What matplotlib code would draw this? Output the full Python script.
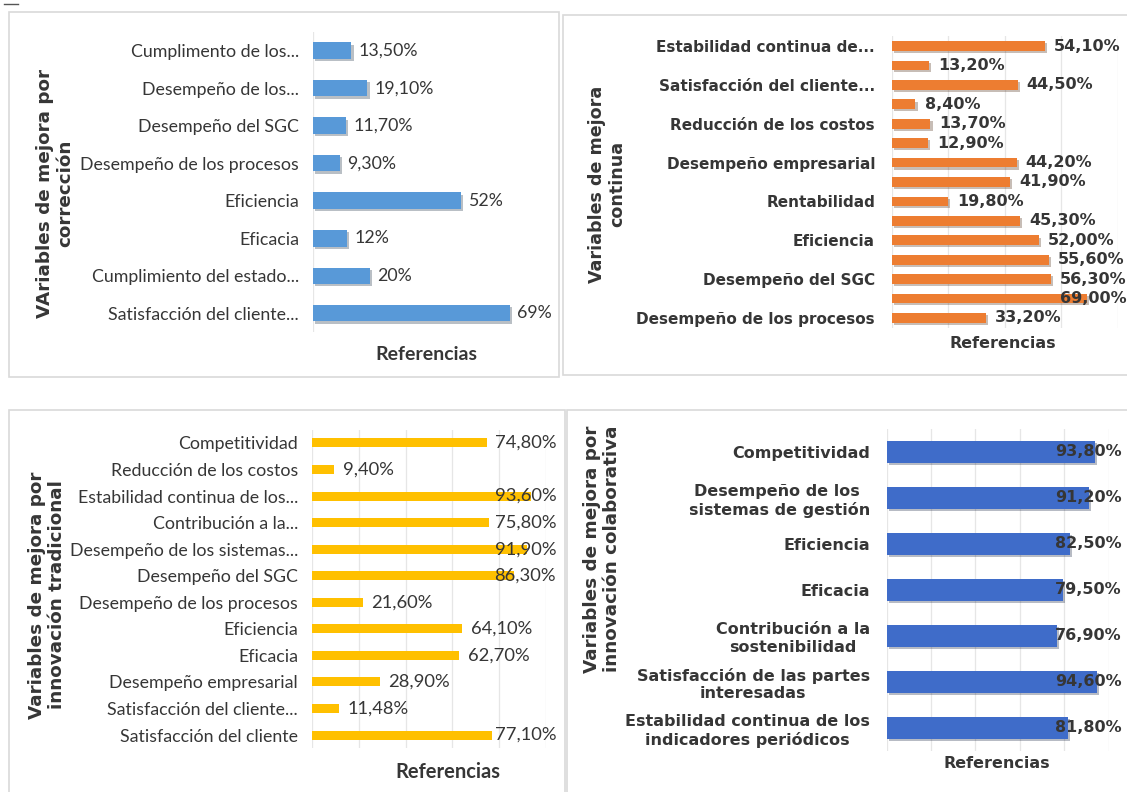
import matplotlib
matplotlib.use("Agg")
import matplotlib.pyplot as plt
import matplotlib.patheffects as pe
from matplotlib.patches import Rectangle
from matplotlib.lines import Line2D

W, H = 1127, 792

# ---- data ----
correccion_cats = [
    "Cumplimento de los...", "Desempeño de los...", "Desempeño del SGC",
    "Desempeño de los procesos", "Eficiencia", "Eficacia",
    "Cumplimiento del estado...", "Satisfacción del cliente...",
]
correccion_vals = [13.5, 19.1, 11.7, 9.3, 52, 12, 20, 69]

continua_cats = [
    "Estabilidad continua de...", "", "Satisfacción del cliente...", "",
    "Reducción de los costos", "", "Desempeño empresarial", "",
    "Rentabilidad", "", "Eficiencia", "", "Desempeño del SGC", "",
    "Desempeño de los procesos",
]
continua_vals = [54.1, 13.2, 44.5, 8.4, 13.7, 12.9, 44.2, 41.9,
                 19.8, 45.3, 52.0, 55.6, 56.3, 69.0, 33.2]

tradicional_cats = [
    "Competitividad", "Reducción de los costos", "Estabilidad continua de los...",
    "Contribución a la...", "Desempeño de los sistemas...", "Desempeño del SGC",
    "Desempeño de los procesos", "Eficiencia", "Eficacia",
    "Desempeño empresarial", "Satisfacción del cliente...", "Satisfacción del cliente",
]
tradicional_vals = [74.8, 9.4, 93.6, 75.8, 91.9, 86.3, 21.6, 64.1, 62.7, 28.9, 11.48, 77.1]

colaborativa_cats = [
    "Competitividad", "Desempeño de los \nsistemas de gestión", "Eficiencia",
    "Eficacia", "Contribución a la\nsostenibilidad",
    "Satisfacción de las partes\ninteresadas",
    "Estabilidad continua de los\nindicadores periódicos",
]
colaborativa_vals = [93.8, 91.2, 82.5, 79.5, 76.9, 94.6, 81.8]

TXT = "#363636"
CAL = ["Lato", "DejaVu Sans"]
VER = ["DejaVu Sans"]


def fmt_mixed(v):
    if v == int(v):
        return f"{v:.0f}%"
    return f"{v:.2f}%".replace(".", ",")


def fmt_two(v):
    return f"{v:.2f}%".replace(".", ",")


def px(x, y):
    return x / W, 1 - y / H


def rect_px(x0, y0, x1, y1):
    return [x0 / W, 1 - y1 / H, (x1 - x0) / W, (y1 - y0) / H]


fig = plt.figure(figsize=(W / 100, H / 100), dpi=100)
fig.patch.set_facecolor("white")

# panel frames
for x0, y0, x1, y1 in [(9, 12, 559, 377), (563, 15, 1130, 375),
                       (9, 410, 565, 796), (567, 410, 1130, 796)]:
    fig.add_artist(Rectangle(px(x0, y1), (x1 - x0) / W, (y1 - y0) / H,
                             transform=fig.transFigure, facecolor="white",
                             edgecolor="#d9d9d9", linewidth=1.2, zorder=0))
fig.add_artist(Line2D([4 / W, 18 / W], [1 - 3.5 / H] * 2, transform=fig.transFigure,
                      color="#555555", linewidth=1))


def panel(rect, cats, vals, color, xmax, bar_h, fmt, offset, cap,
          tick_font, val_font, pad, shadow=True, grid=True, ma="right"):
    ax = fig.add_axes(rect)
    ax.set_facecolor("none")
    y = list(range(len(vals)))
    bars = ax.barh(y, vals, height=bar_h, color=color, zorder=3)
    if shadow:
        for b in bars:
            b.set_path_effects([pe.SimplePatchShadow(offset=(1.5, -1.5), alpha=0.3),
                                pe.Normal()])
    ax.set_xlim(0, xmax)
    ax.set_ylim(len(vals) - 0.5, -0.5)
    ax.set_yticks(y)
    ax.set_yticklabels(cats, color=TXT, multialignment=ma, **tick_font)
    ax.tick_params(axis="y", length=0, pad=pad)
    ax.set_xticks(range(0, int(xmax) + 1, 20))
    ax.tick_params(axis="x", length=0, labelbottom=False)
    for s in ax.spines.values():
        s.set_visible(False)
    if grid:
        ax.grid(axis="x", color="#e6e6e6", linewidth=0.9, zorder=0)
    else:
        ax.axvline(0, color="#e6e6e6", linewidth=0.9, zorder=0)
    for yi, v in zip(y, vals):
        ax.text(min(v + offset, cap), yi, fmt(v), va="center", ha="left",
                color=TXT, zorder=4, clip_on=False, **val_font)
    return ax


def ytitle(x, y, s, size):
    fig.text(*px(x, y), s, rotation=90, ha="center", va="center",
             multialignment="center", fontfamily=VER, fontsize=size,
             fontweight="bold", color=TXT, linespacing=1.2)


# top-left: mejora por corrección
panel(rect_px(313, 32, 541, 332), correccion_cats, correccion_vals, "#5899d8",
      80, 0.44, fmt_mixed, 2.5, 200,
      dict(fontfamily=CAL, fontsize=12.8), dict(fontfamily=CAL, fontsize=12.8),
      10, grid=False)
ytitle(55, 193, "VAriables de mejora por\ncorrección", 13.2)
fig.text(*px(426, 354), "Referencias", ha="center", va="center", fontfamily=CAL,
         fontsize=14, fontweight="bold", color=TXT)

# top-right: mejora continua
panel(rect_px(891.7, 36.3, 1118, 327.7), continua_cats, continua_vals, "#ed7d31",
      80, 0.5, fmt_two, 3.2, 59.5,
      dict(fontfamily=VER, fontsize=11, fontweight="bold"),
      dict(fontfamily=VER, fontsize=11.5, fontweight="bold"), 12)
ytitle(607, 184, "Variables de mejora\ncontinua", 12.6)
fig.text(*px(1003, 343), "Referencias", ha="center", va="center", fontfamily=VER,
         fontsize=11.5, fontweight="bold", color=TXT)

# bottom-left: innovación tradicional
panel(rect_px(312, 429.7, 546, 748.3), tradicional_cats, tradicional_vals, "#ffc000",
      100, 0.34, fmt_two, 3.8, 78,
      dict(fontfamily=CAL, fontsize=12.8), dict(fontfamily=CAL, fontsize=13.2),
      10, shadow=False)
ytitle(47, 595, "Variables de mejora por\ninnovación tradicional", 13.2)
fig.text(*px(448, 772), "Referencias", ha="center", va="center", fontfamily=CAL,
         fontsize=14.5, fontweight="bold", color=TXT)

# bottom-right: innovación colaborativa
panel(rect_px(886.5, 429, 1108.5, 751), colaborativa_cats, colaborativa_vals, "#3f6cc9",
      100, 0.48, fmt_two, 3, 75.9,
      dict(fontfamily=VER, fontsize=11.5, fontweight="bold"),
      dict(fontfamily=VER, fontsize=11.5, fontweight="bold"), 12, ma="center")
ytitle(602, 549, "Variables de mejora por\ninnovación colaborativa", 13.2)
fig.text(*px(997, 763), "Referencias", ha="center", va="center", fontfamily=VER,
         fontsize=11.5, fontweight="bold", color=TXT)

fig.savefig("out.png", dpi=100, facecolor="white")
